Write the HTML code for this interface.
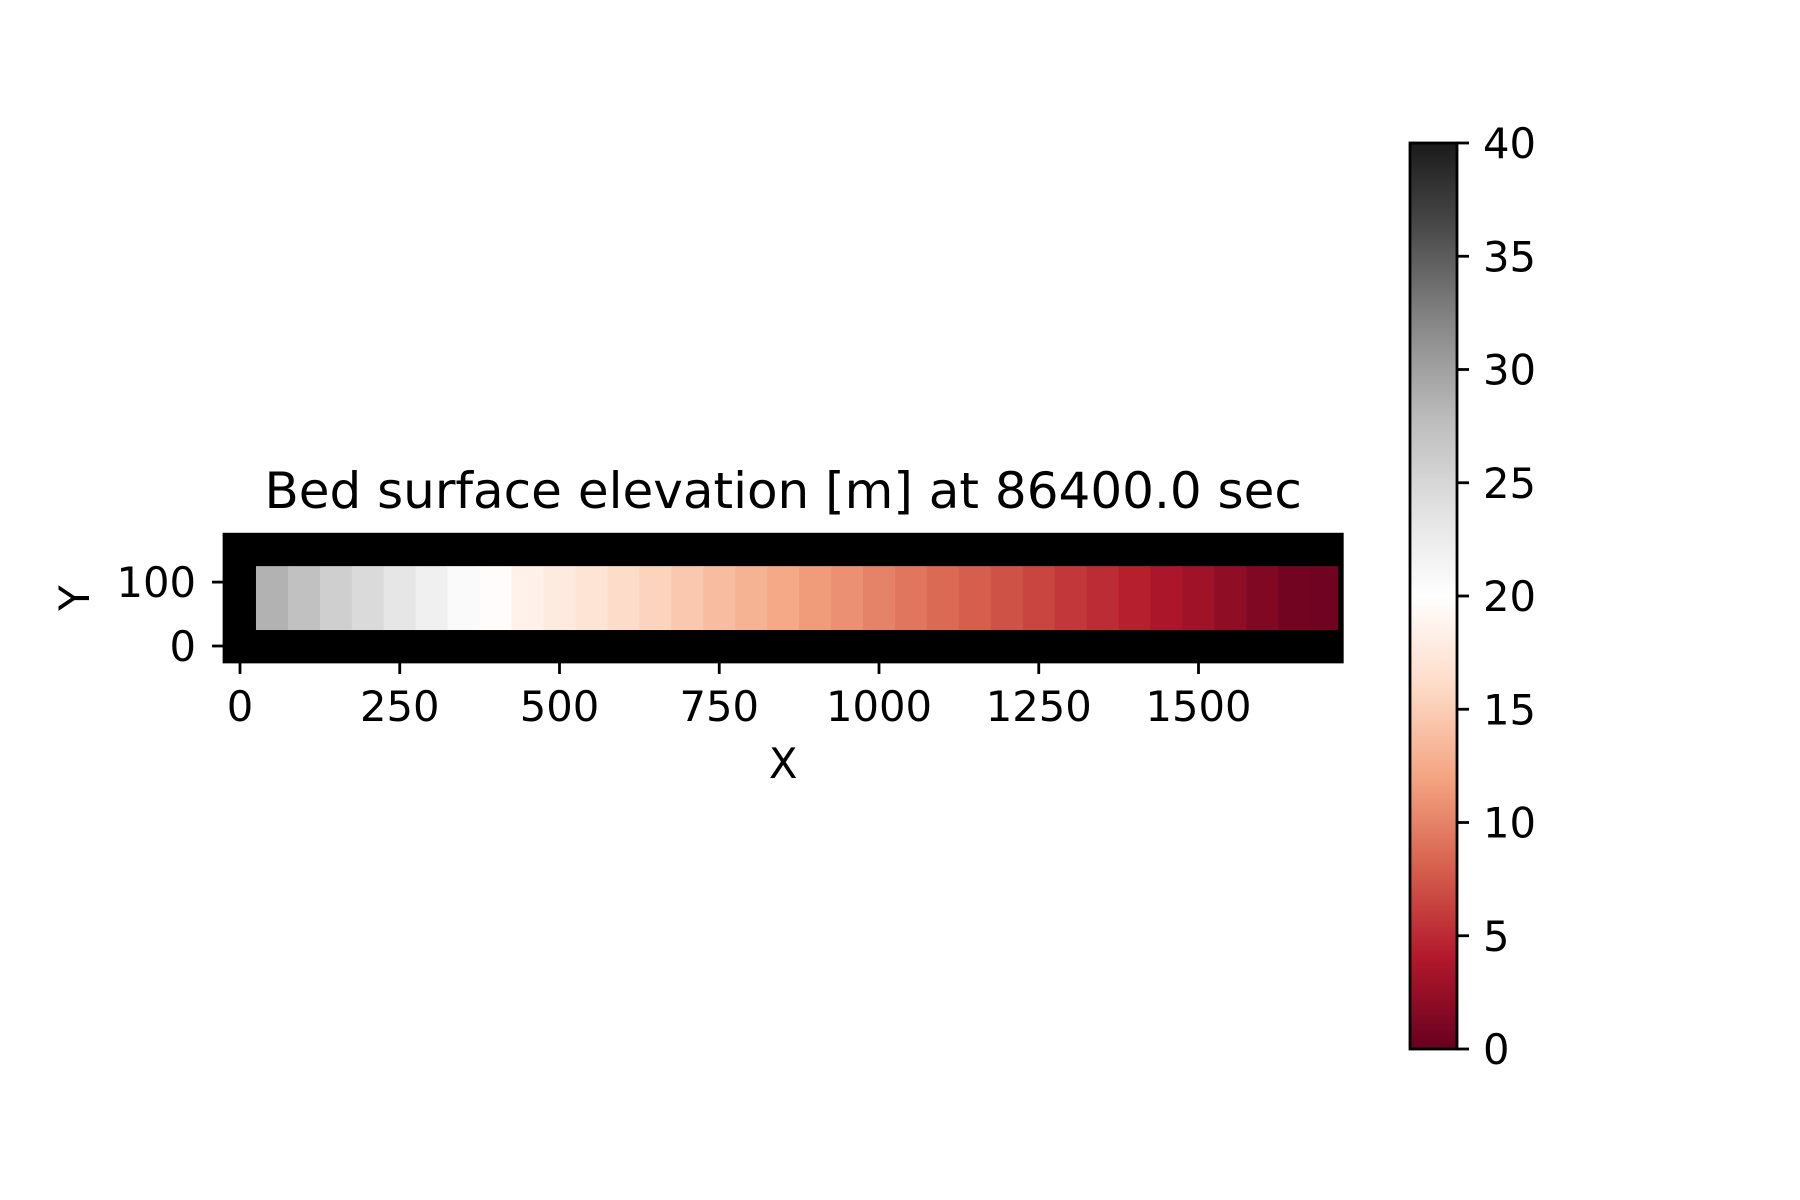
<!DOCTYPE html>
<html><head><meta charset="utf-8"><style>
html,body{margin:0;padding:0;background:#fff;}
svg{display:block;font-family:"DejaVu Sans","Liberation Sans",sans-serif;}
</style></head><body>
<svg id="fig" width="1800" height="1200" viewBox="0 0 1800 1200">
<rect width="1800" height="1200" fill="#fff"/>
<g id="plot"></g>
</svg>
<script>
const cellX = [50,100,150,200,250,300,350,400,450,500,550,600,650,700,750,800,850,900,950,1000,1050,1100,1150,1200,1250,1300,1350,1400,1450,1500,1550,1600,1650,1700];
const cellZ = [28.6,27.3,25.8,24.6,23.2,21.9,20.6,19.7,18.6,17.8,17.0,16.2,15.4,14.6,13.8,13.0,12.3,11.5,10.8,10.0,9.3,8.6,7.9,7.2,6.5,5.8,5.1,4.4,3.7,3.0,2.2,1.4,0.6,0.5];
const cellY = [75];
const xTicks = [0,250,500,750,1000,1250,1500];
const yTicks = [0,100];
const cbTicks = [0,5,10,15,20,25,30,35,40];
const titleText = "Bed surface elevation [m] at 86400.0 sec";

const NS="http://www.w3.org/2000/svg";
const g=document.getElementById('plot');
const S=0.639, X0=240, Y0=646;
const xMin=-25,xMax=1725,yMin=-25,yMax=175;
const sx=v=>X0+v*S, sy=v=>Y0-v*S;
const vmin=0,vmax=40;
const stops=["#67001f","#b2182b","#d6604d","#f4a582","#fddbc7","#ffffff","#e0e0e0","#bababa","#878787","#4d4d4d","#1a1a1a"];
function hex(h){return [1,3,5].map(i=>parseInt(h.substr(i,2),16));}
function cmap(v){let t=Math.max(0,Math.min(1,(v-vmin)/(vmax-vmin)))*10;let i=Math.min(9,Math.floor(t));let f=t-i;
 const a=hex(stops[i]),b=hex(stops[i+1]);return `rgb(${a.map((c,k)=>Math.round(c+(b[k]-c)*f)).join(',')})`;}
function el(t,at,txt){const e=document.createElementNS(NS,t);for(const k in at)e.setAttribute(k,at[k]);if(txt!==undefined)e.textContent=txt;g.appendChild(e);return e;}

const bg=el('rect',{x:sx(xMin),y:sy(yMax),width:(xMax-xMin)*S,height:(yMax-yMin)*S,fill:'#000'});


const half=25, clipX=1718;
cellX.forEach((x,i)=>{cellY.forEach(y=>{
 const x1=Math.max(x-half,xMin), x2=Math.min(x+half,clipX);
 const r=el('rect',{x:sx(x1),y:sy(y+50),width:(x2-x1)*S+0.5,height:100*S,fill:cmap(cellZ[i])});
 
 
});});
const fr=el('rect',{x:sx(xMin),y:sy(yMax),width:(xMax-xMin)*S,height:(yMax-yMin)*S,fill:'none',stroke:'#000','stroke-width':2.8});



const FS=41.7;
const yb=sy(yMin);
xTicks.forEach(t=>{
 const l=el('line',{x1:sx(t),x2:sx(t),y1:yb,y2:yb+12,stroke:'#000','stroke-width':2.8});
 
 
 const tx=el('text',{x:sx(t),y:yb+59,'font-size':FS,'text-anchor':'middle'},String(t));
 
 
});
const xl=sx(xMin);
yTicks.forEach(t=>{
 const l=el('line',{x1:xl-12,x2:xl,y1:sy(t),y2:sy(t),stroke:'#000','stroke-width':2.8});
 
 
 const tx=el('text',{x:xl-28,y:sy(t)+15,'font-size':FS,'text-anchor':'end'},String(t));
 
 
});
const xlab=el('text',{x:(sx(xMin)+sx(xMax))/2,y:778,'font-size':FS,'text-anchor':'middle'},'X');


const ylab=el('text',{x:0,y:0,'font-size':FS,'text-anchor':'middle',transform:`translate(89,${(sy(yMin)+sy(yMax))/2}) rotate(-90)`},'Y');


const ttl=el('text',{x:(sx(xMin)+sx(xMax))/2,y:508,'font-size':50,'text-anchor':'middle'},titleText);



const cbL=1410,cbR=1457,cbT=143,cbB=1049;
const cy=v=>cbB-(v-vmin)/(vmax-vmin)*(cbB-cbT);
const defs=el('defs',{});
const grad=document.createElementNS(NS,'linearGradient');
grad.setAttribute('id','cbg');grad.setAttribute('x1','0');grad.setAttribute('y1','1');grad.setAttribute('x2','0');grad.setAttribute('y2','0');
for(let i=0;i<=40;i++){const s=document.createElementNS(NS,'stop');s.setAttribute('offset',i/40);s.setAttribute('stop-color',cmap(vmin+(vmax-vmin)*i/40));grad.appendChild(s);}
defs.appendChild(grad);
const cb=el('rect',{x:cbL,y:cbT,width:cbR-cbL,height:cbB-cbT,fill:'url(#cbg)',stroke:'#000','stroke-width':2.8});


cbTicks.forEach(t=>{
 const l=el('line',{x1:cbR,x2:cbR+12,y1:cy(t),y2:cy(t),stroke:'#000','stroke-width':2.8});
 
 
 const tx=el('text',{x:cbR+26,y:cy(t)+15,'font-size':FS},String(t));
 
 
});
</script>
</body></html>
